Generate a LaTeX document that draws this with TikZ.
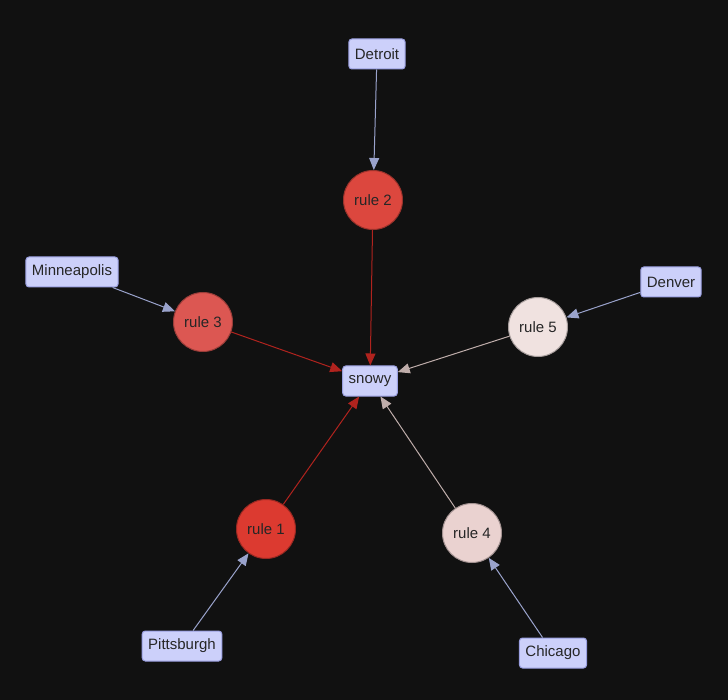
\documentclass[tikz,border=0pt]{standalone}
\usepackage{fontspec}
\setmainfont{Liberation Sans}
\usetikzlibrary{arrows.meta}
\definecolor{bg}{HTML}{111111}
\definecolor{boxfill}{HTML}{CCD0FA}
\definecolor{boxdraw}{HTML}{9A9FE0}
\definecolor{eblue}{HTML}{9AA3CC}
\definecolor{ered}{HTML}{B0231E}
\definecolor{ebeige}{HTML}{BFADAA}
\begin{document}
\begin{tikzpicture}[x=1pt,y=-1pt,
  box/.style={draw=boxdraw,fill=boxfill,rounded corners=3pt,line width=1pt,inner xsep=6pt,minimum height=30pt,font=\fontsize{15}{18}\selectfont,text=black!85},
  rulen/.style={circle,draw=#1!70!black,fill=#1,line width=1pt,minimum size=59pt,inner sep=0pt,font=\fontsize{15}{18}\selectfont,text=black!85},
  eb/.style={draw=eblue,line width=1pt,-{Triangle[length=12pt,width=10pt]}},
  er/.style={draw=ered,line width=1pt,-{Triangle[length=12pt,width=10pt]}},
  ec/.style={draw=ebeige,line width=1pt,-{Triangle[length=12pt,width=10pt]}}]
\fill[bg] (0,0) rectangle (728,700);
\definecolor{r1}{HTML}{DC3A30}
\definecolor{r2}{HTML}{DC473E}
\definecolor{r3}{HTML}{DC5752}
\definecolor{r4}{HTML}{EAD2D0}
\definecolor{r5}{HTML}{F0E2E0}
\node[box] (det) at (377,54) {Detroit};
\node[box] (min) at (72,272) {Minneapolis};
\node[box] (den) at (671,282) {Denver};
\node[box] (pit) at (182,646) {Pittsburgh};
\node[box] (chi) at (553,653) {Chicago};
\node[box] (snowy) at (370,381) {snowy};
\node[rulen=r2] (r2) at (373,200) {rule 2};
\node[rulen=r3] (r3) at (203,322) {rule 3};
\node[rulen=r5] (r5) at (538,327) {rule 5};
\node[rulen=r1] (r1) at (266,529) {rule 1};
\node[rulen=r4] (r4) at (472,533) {rule 4};
\draw[eb] (det) -- (r2);
\draw[eb] (min) -- (r3);
\draw[eb] (den) -- (r5);
\draw[eb] (pit) -- (r1);
\draw[eb] (chi) -- (r4);
\draw[er] (r2) -- (snowy);
\draw[er] (r3) -- (snowy);
\draw[er] (r1) -- (snowy);
\draw[ec] (r5) -- (snowy);
\draw[ec] (r4) -- (snowy);
\end{tikzpicture}
\end{document}
